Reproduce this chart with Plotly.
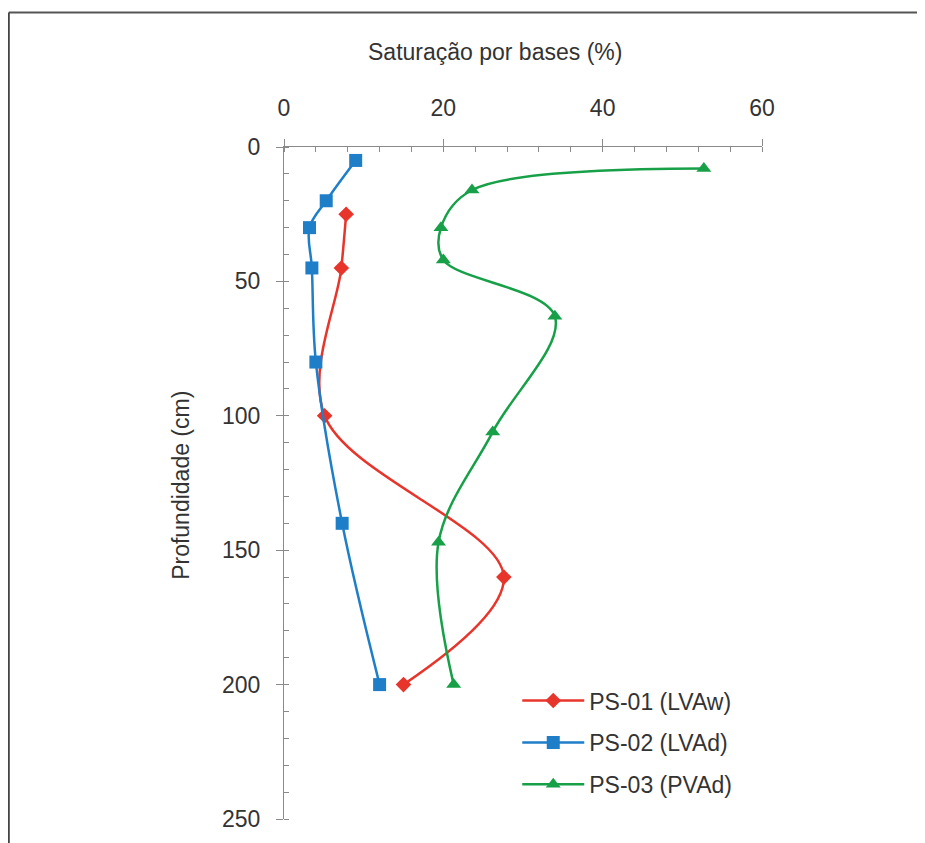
import plotly.graph_objects as go

# ---- data ----
ps01_depth = [25, 45, 100, 160, 200]
ps01_sat = [7.8, 7.2, 5.1, 27.6, 15.0]

ps02_depth = [5, 20, 30, 45, 80, 140, 200]
ps02_sat = [9.0, 5.3, 3.2, 3.5, 4.0, 7.3, 12.0]

ps03_depth = [8, 16, 30, 42, 63, 106, 147, 200]
ps03_sat = [52.7, 23.6, 19.7, 20.0, 34.0, 26.2, 19.4, 21.3]

series_names = ["PS-01 (LVAw)", "PS-02 (LVAd)", "PS-03 (PVAd)"]
x_ticks = [0, 20, 40, 60]
y_ticks = [0, 50, 100, 150, 200, 250]

# ---- layout geometry (page has an 8px body margin) ----
OFF = 8
W, H = 925 - OFF, 843 - OFF
ML, MR, MT, MB = 283.5 - OFF, 163, 146.5 - OFF, 24
PW = W - ML - MR
PH = H - MT - MB

def px_x(px):
    return (px - OFF - ML) / PW

def px_y(py):
    return (H - MB - (py - OFF)) / PH

RED = "#e8352b"
BLUE = "#1f7ec8"
GREEN = "#17a048"
TXT = "#333333"
AX = "#8a8a8a"
FONT = "Liberation Sans, Arial, sans-serif"
FS = 23

fig = go.Figure()
specs = [
    (ps01_sat, ps01_depth, series_names[0], RED, "diamond", 12),
    (ps02_sat, ps02_depth, series_names[1], BLUE, "square", 13),
    (ps03_sat, ps03_depth, series_names[2], GREEN, "triangle-up", 13),
]
for i, (xs, ys, name, col, sym, sz) in enumerate(specs):
    fig.add_trace(go.Scatter(
        x=xs, y=ys, name=name, mode="lines+markers",
        line=dict(color=col, width=2.5, shape="spline", smoothing=1.0),
        marker=dict(color=col, symbol=sym, size=sz),
        legendgroup=f"g{i}",
    ))

fig.update_layout(
    width=W, height=H,
    margin=dict(l=ML, r=MR, t=MT, b=MB, pad=0),
    paper_bgcolor="white", plot_bgcolor="white",
    font=dict(family=FONT, size=FS, color=TXT),
    showlegend=True,
    legend=dict(
        x=px_x(517), y=px_y(679), xanchor="left", yanchor="top",
        bgcolor="rgba(255,255,255,0)", font=dict(size=FS, color=TXT),
        tracegroupgap=9, itemwidth=62,
    ),
    xaxis=dict(
        side="top", range=[0, 60], tickvals=x_ticks,
        showgrid=False, zeroline=False,
        showline=True, linecolor=AX, linewidth=1,
        ticks="outside", ticklen=7, tickcolor=AX, tickwidth=1,
        ticklabelstandoff=14,
        tickfont=dict(size=FS, color=TXT),
        minor=dict(dtick=4, ticks="inside", ticklen=5, tickcolor=AX, showgrid=False),
    ),
    yaxis=dict(
        range=[250, 0], tickvals=y_ticks,
        showgrid=False, zeroline=False,
        showline=True, linecolor=AX, linewidth=1,
        ticks="outside", ticklen=7, tickcolor=AX, tickwidth=1,
        ticklabelstandoff=11,
        tickfont=dict(size=FS, color=TXT),
        minor=dict(dtick=10, ticks="inside", ticklen=5, tickcolor=AX, showgrid=False),
    ),
    annotations=[
        dict(text="Saturação por bases (%)", xref="paper", yref="paper",
             x=px_x(495), y=px_y(51), showarrow=False,
             xanchor="center", yanchor="middle", font=dict(size=FS, color=TXT)),
        dict(text="Profundidade (cm)", xref="paper", yref="paper",
             x=px_x(181), y=px_y(485), showarrow=False, textangle=-90,
             xanchor="center", yanchor="middle", font=dict(size=FS, color=TXT)),
    ],
    shapes=[
        dict(type="line", xref="paper", yref="paper",
             x0=px_x(8), x1=px_x(940), y0=px_y(12), y1=px_y(12),
             line=dict(color="#555555", width=2)),
        dict(type="line", xref="paper", yref="paper",
             x0=px_x(8), x1=px_x(8), y0=px_y(12), y1=px_y(860),
             line=dict(color="#444444", width=2)),
    ],
)

fig.write_html("out.html")
